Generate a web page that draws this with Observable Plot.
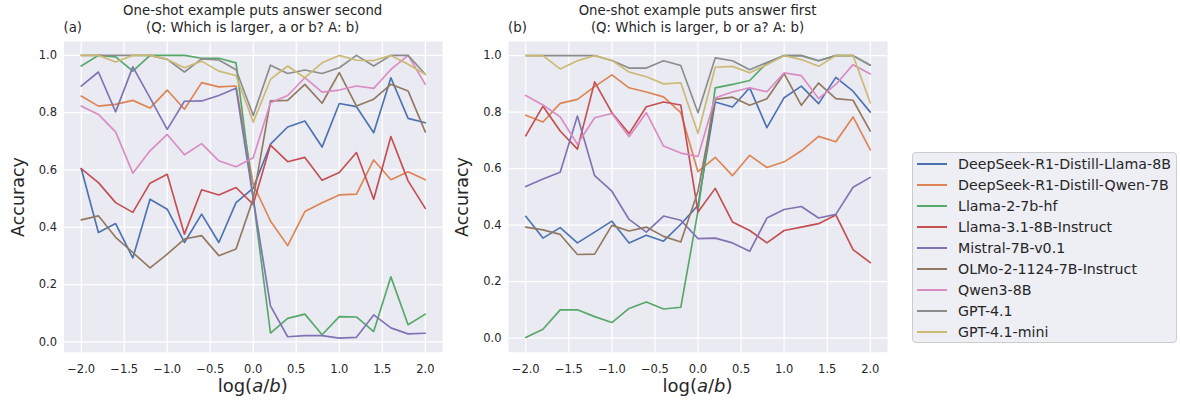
<!DOCTYPE html>
<html>
<head>
<meta charset="utf-8">
<script src="https://cdn.jsdelivr.net/npm/d3@7"></script>
<script src="https://cdn.jsdelivr.net/npm/@observablehq/plot@0.6"></script>
<style>
  html, body { margin: 0; padding: 0; background: #ffffff; }
  #root { position: relative; width: 1180px; height: 405px; font-family: "DejaVu Sans", sans-serif; color: #262626; overflow: hidden; }
  #root svg { position: absolute; top: 0; }
  .lbl { position: absolute; white-space: nowrap; line-height: 1; }
  .title { font-size: 13.3px; transform: translateX(-50%); }
  .tag { font-size: 13.3px; }
  .xlab { font-size: 18px; transform: translateX(-50%); }
  .ylab { font-size: 17.5px; transform: translate(-50%, -50%) rotate(-90deg); }
  #legend { position: absolute; left: 912px; top: 152px; width: 265px; height: 191px; box-sizing: border-box;
            background: #EEEEF5; border: 1px solid #CCCCCC; border-radius: 4px; font-size: 14.2px; }
  .row { position: absolute; left: 0; height: 21px; display: flex; align-items: center; white-space: nowrap; }
  .swatch { width: 30px; height: 1.6px; margin-left: 4px; margin-right: 11px; }
</style>
</head>
<body>
<div id="root"></div>
<script>
// log(a/b) sample points shared by both panels
const logRatio = [-2.0, -1.8, -1.6, -1.4, -1.2, -1.0, -0.8, -0.6, -0.4, -0.2, 0.0,
                  0.2, 0.4, 0.6, 0.8, 1.0, 1.2, 1.4, 1.6, 1.8, 2.0];

const models = [
  "DeepSeek-R1-Distill-Llama-8B",
  "DeepSeek-R1-Distill-Qwen-7B",
  "Llama-2-7b-hf",
  "Llama-3.1-8B-Instruct",
  "Mistral-7B-v0.1",
  "OLMo-2-1124-7B-Instruct",
  "Qwen3-8B",
  "GPT-4.1",
  "GPT-4.1-mini"
];

const xTicks = [-2.0, -1.5, -1.0, -0.5, 0.0, 0.5, 1.0, 1.5, 2.0];
const yTicks = [0.0, 0.2, 0.4, 0.6, 0.8, 1.0];

// (a) one-shot example puts the answer second
const accSecond = [
  [0.605, 0.382, 0.413, 0.293, 0.498, 0.463, 0.347, 0.446, 0.347, 0.486, 0.537, 0.690, 0.750, 0.771, 0.680, 0.832, 0.821, 0.730, 0.922, 0.780, 0.765],
  [0.858, 0.823, 0.829, 0.843, 0.816, 0.879, 0.812, 0.905, 0.890, 0.893, 0.550, 0.422, 0.336, 0.455, 0.486, 0.513, 0.516, 0.635, 0.566, 0.594, 0.566],
  [0.963, 1.000, 0.995, 0.945, 1.000, 1.000, 1.000, 0.990, 0.990, 0.974, 0.500, 0.031, 0.082, 0.097, 0.025, 0.088, 0.087, 0.036, 0.227, 0.060, 0.097],
  [0.605, 0.556, 0.486, 0.452, 0.554, 0.585, 0.376, 0.531, 0.513, 0.539, 0.480, 0.687, 0.629, 0.644, 0.564, 0.591, 0.661, 0.498, 0.717, 0.562, 0.466],
  [0.893, 0.942, 0.803, 0.960, 0.852, 0.742, 0.840, 0.841, 0.860, 0.885, 0.500, 0.126, 0.018, 0.022, 0.022, 0.013, 0.016, 0.094, 0.049, 0.028, 0.030],
  [0.426, 0.440, 0.365, 0.312, 0.258, 0.306, 0.359, 0.371, 0.301, 0.324, 0.500, 0.841, 0.843, 0.899, 0.833, 0.940, 0.823, 0.847, 0.899, 0.876, 0.733],
  [0.823, 0.794, 0.733, 0.589, 0.667, 0.724, 0.653, 0.692, 0.632, 0.611, 0.643, 0.835, 0.860, 0.922, 0.872, 0.879, 0.893, 0.885, 0.951, 1.000, 0.899],
  [1.000, 1.000, 1.000, 1.000, 1.000, 0.986, 0.942, 0.988, 0.984, 0.950, 0.790, 0.966, 0.937, 0.949, 0.937, 0.957, 1.000, 0.963, 1.000, 1.000, 0.934],
  [1.000, 1.000, 0.977, 1.000, 1.000, 0.986, 0.957, 0.980, 0.945, 0.930, 0.767, 0.916, 0.963, 0.922, 0.974, 1.000, 0.983, 0.982, 1.000, 0.969, 0.934]
];

// (b) one-shot example puts the answer first
const accFirst = [
  [0.431, 0.354, 0.391, 0.337, 0.375, 0.414, 0.337, 0.364, 0.343, 0.403, 0.470, 0.836, 0.818, 0.886, 0.745, 0.851, 0.892, 0.830, 0.923, 0.874, 0.800],
  [0.789, 0.765, 0.831, 0.845, 0.890, 0.932, 0.886, 0.871, 0.854, 0.798, 0.589, 0.640, 0.575, 0.647, 0.604, 0.624, 0.663, 0.714, 0.695, 0.783, 0.666],
  [0.002, 0.031, 0.100, 0.100, 0.076, 0.055, 0.105, 0.128, 0.103, 0.109, 0.450, 0.886, 0.898, 0.912, 0.974, 1.000, 1.000, 0.982, 1.000, 1.000, 0.966],
  [0.716, 0.821, 0.733, 0.669, 0.907, 0.798, 0.724, 0.819, 0.836, 0.825, 0.446, 0.530, 0.411, 0.381, 0.337, 0.381, 0.393, 0.405, 0.436, 0.313, 0.267],
  [0.537, 0.563, 0.587, 0.786, 0.575, 0.520, 0.420, 0.375, 0.432, 0.417, 0.352, 0.354, 0.337, 0.307, 0.425, 0.455, 0.466, 0.425, 0.438, 0.534, 0.569],
  [0.393, 0.383, 0.367, 0.296, 0.297, 0.399, 0.379, 0.393, 0.360, 0.340, 0.520, 0.845, 0.853, 0.824, 0.847, 0.936, 0.824, 0.903, 0.848, 0.842, 0.733],
  [0.859, 0.825, 0.783, 0.686, 0.780, 0.795, 0.713, 0.798, 0.680, 0.655, 0.643, 0.851, 0.871, 0.886, 0.872, 0.939, 0.929, 0.848, 0.898, 0.968, 0.935],
  [1.000, 1.000, 1.000, 1.000, 1.000, 0.983, 0.956, 0.956, 0.982, 0.965, 0.798, 0.992, 0.982, 0.950, 0.976, 1.000, 1.000, 0.982, 1.000, 1.000, 0.966],
  [1.000, 1.000, 0.953, 0.982, 1.000, 0.983, 0.942, 0.925, 0.900, 0.904, 0.724, 0.959, 0.962, 0.939, 0.968, 1.000, 0.986, 0.962, 1.000, 1.000, 0.833]
];

// seaborn "deep" palette, one colour per model
const palette = ["#4C72B0", "#DD8452", "#55A868", "#C44E52", "#8172B3", "#937860", "#DA8BC3", "#8C8C8C", "#CCB974"];

const root = document.getElementById("root");

function panel(series, yDomain, left, width, marginLeft, marginRight) {
  const fmt = d3.format(".1f");
  const chart = Plot.plot({
    width,
    height: 405,
    marginTop: 41,
    marginBottom: 53.3,
    marginLeft,
    marginRight,
    style: { fontFamily: "DejaVu Sans, sans-serif", fontSize: "11.5px", color: "#262626", background: "transparent", overflow: "visible" },
    x: { domain: [-2.2, 2.2] },
    y: { domain: yDomain },
    marks: [
      Plot.frame({ fill: "#EAEAF2", stroke: "none" }),
      Plot.gridX(xTicks, { stroke: "#ffffff", strokeOpacity: 1, strokeWidth: 1.25 }),
      Plot.gridY(yTicks, { stroke: "#ffffff", strokeOpacity: 1, strokeWidth: 1.25 }),
      Plot.axisX(xTicks, { tickSize: 0, tickPadding: 12.5, tickFormat: fmt, label: null }),
      Plot.axisY(yTicks, { tickSize: 0, tickPadding: 7, tickFormat: fmt, label: null }),
      ...series.map((vals, i) =>
        Plot.lineY(vals, { x: (d, j) => logRatio[j], y: d => d, stroke: palette[i], strokeWidth: 1.65 })
      )
    ]
  });
  chart.style.left = left + "px";
  root.appendChild(chart);
}

panel(accSecond, [-0.036, 1.0485], 0, 450, 63.5, 8);
panel(accFirst, [-0.05, 1.05], 450, 450, 58, 13);

function label(cls, html, x, y) {
  const el = document.createElement("div");
  el.className = "lbl " + cls;
  el.innerHTML = html;
  el.style.left = x + "px";
  el.style.top = y + "px";
  root.appendChild(el);
}

label("title", "One-shot example puts answer second", 252.7, 4.2);
label("title", "(Q: Which is larger, a or b? A: b)", 252.7, 20.7);
label("tag", "(a)", 63.5, 20.7);
label("title", "One-shot example puts answer first", 697.5, 4.2);
label("title", "(Q: Which is larger, b or a? A: b)", 697.5, 20.7);
label("tag", "(b)", 508, 20.7);

label("xlab", "log(<i>a</i>/<i>b</i>)", 252.7, 377);
label("xlab", "log(<i>a</i>/<i>b</i>)", 697.5, 377);
label("ylab", "Accuracy", 18.5, 196.5);
label("ylab", "Accuracy", 463, 196.5);

// legend
const legend = document.createElement("div");
legend.id = "legend";
models.forEach((name, i) => {
  const row = document.createElement("div");
  row.className = "row";
  row.style.top = (0.3 + 21 * i) + "px";
  const sw = document.createElement("div");
  sw.className = "swatch";
  sw.style.background = palette[i];
  const tx = document.createElement("span");
  tx.textContent = name;
  row.appendChild(sw);
  row.appendChild(tx);
  legend.appendChild(row);
});
root.appendChild(legend);
</script>
</body>
</html>
